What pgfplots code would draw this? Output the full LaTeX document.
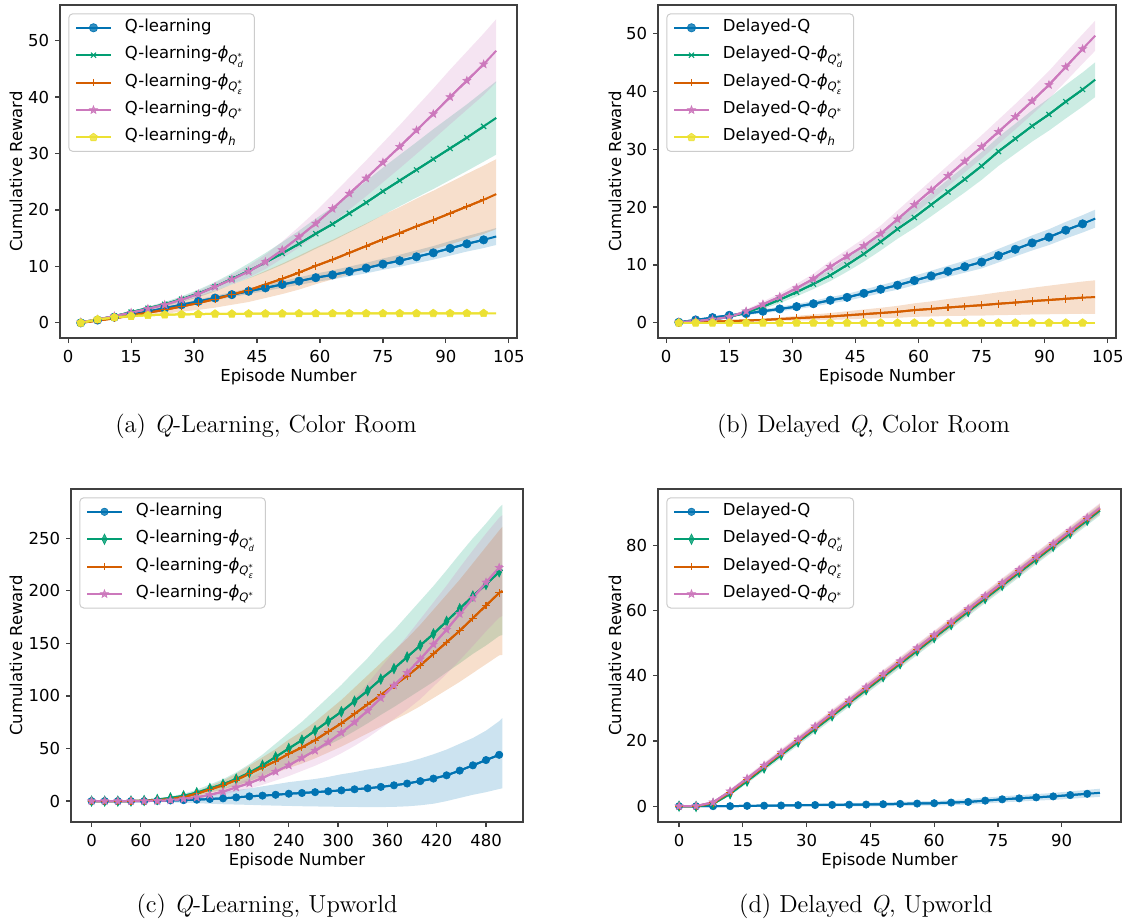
\documentclass[border=0pt]{standalone}
\usepackage{fontspec}
\usepackage{amsmath}
\usepackage{pgfplots}
\usepackage{pgfplotstable}
\pgfplotsset{compat=1.18}
\usepgfplotslibrary{fillbetween}
\newfontfamily\dv{DejaVu Sans}
\newcommand\fs{\dv\fontsize{8.25}{9.9}\selectfont}
\definecolor{c1}{HTML}{0173B2}
\definecolor{c2}{HTML}{029E73}
\definecolor{c3}{HTML}{D55E00}
\definecolor{c4}{HTML}{CC78BC}
\definecolor{c5}{HTML}{ECE133}
\pgfdeclareplotmark{fstar}{%
 \pgfpathmoveto{\pgfpointpolar{90}{\pgfplotmarksize}}%
 \pgfpathlineto{\pgfpointpolar{126}{0.42\pgfplotmarksize}}%
 \pgfpathlineto{\pgfpointpolar{162}{\pgfplotmarksize}}%
 \pgfpathlineto{\pgfpointpolar{198}{0.42\pgfplotmarksize}}%
 \pgfpathlineto{\pgfpointpolar{234}{\pgfplotmarksize}}%
 \pgfpathlineto{\pgfpointpolar{270}{0.42\pgfplotmarksize}}%
 \pgfpathlineto{\pgfpointpolar{306}{\pgfplotmarksize}}%
 \pgfpathlineto{\pgfpointpolar{342}{0.42\pgfplotmarksize}}%
 \pgfpathlineto{\pgfpointpolar{18}{\pgfplotmarksize}}%
 \pgfpathlineto{\pgfpointpolar{54}{0.42\pgfplotmarksize}}%
 \pgfpathclose\pgfusepathqfillstroke}
\newcommand\phiQd{$\text{\itshape ϕ}_{\text{\itshape Q}^{\text{*}}_{\text{\itshape d}}}$}
\newcommand\phiQe{$\text{\itshape ϕ}_{\text{\itshape Q}^{\text{*}}_{\text{\itshape ε}}}$}
\newcommand\phiQ{$\text{\itshape ϕ}_{\text{\itshape Q}^{\text{*}}}$}
\newcommand\phih{$\text{\itshape ϕ}_{\text{\itshape h}}$}
\pgfplotsset{
 myax/.style={
  scale only axis, anchor=south west,
  axis line style={black!75, line width=0.6pt},
  tick pos=left, tick align=outside, major tick length=2.5pt,
  every tick/.style={black!75, line width=0.6pt},
  tick label style={font=\fs},
  yticklabel style={xshift=0.6pt},
  /pgf/number format/assume math mode=true,
  label style={font=\fs},
  xlabel style={at={([yshift=-19.6pt]axis description cs:0.5,0)}, anchor=center},
  legend style={at={(0,1)}, anchor=north west, xshift=4.15pt, yshift=-4.15pt,
    draw=black!20, line width=0.5pt, rounded corners=2pt, fill=white, fill opacity=0.8, text opacity=1,
    font=\fs, inner xsep=3.3pt, inner ysep=1.25pt, row sep=2.2pt, column sep=5.2pt,
    nodes={text height=6.5pt, text depth=3pt, inner xsep=1.5pt, inner ysep=1pt}},
  legend cell align=left,
 },
 s1/.style={c1, line width=1pt, mark=*, mark size=2.1pt, mark options={solid, fill=c1, line width=0.3pt}},
 s1s/.style={s1, mark size=1.85pt},
 s2/.style={c2, line width=1pt, mark=x, mark size=1.8pt, mark options={solid, line width=0.55pt}},
 s2d/.style={c2, line width=1pt, mark=diamond*, mark size=2.6pt, mark options={solid, xscale=0.65, fill=c2, line width=0.3pt}},
 s3/.style={c3, line width=1pt, mark=+, mark size=1.9pt, mark options={solid, line width=0.55pt}},
 s4/.style={c4, line width=1pt, mark=fstar, mark size=2.1pt, mark options={solid, fill=c4, line width=0.3pt}},
 s5/.style={c5, line width=1pt, mark=pentagon*, mark size=2.1pt, mark options={solid, fill=c5, line width=0.3pt}},
}
\newcommand\band[5]{%
 \addplot[draw=none, forget plot, name path=#5l] table[x=x, y expr={\thisrow{#2}-\thisrow{#3}}]{#1};
 \addplot[draw=none, forget plot, name path=#5h] table[x=x, y expr={\thisrow{#2}+\thisrow{#3}}]{#1};
 \addplot[fill=#4, fill opacity=0.2, draw=none, forget plot] fill between[of=#5l and #5h];
}
\newcommand\bandlh[5]{%
 \addplot[draw=none, forget plot, name path=#5l] table[x=x, y=#2]{#1};
 \addplot[draw=none, forget plot, name path=#5h] table[x=x, y=#3]{#1};
 \addplot[fill=#4, fill opacity=0.2, draw=none, forget plot] fill between[of=#5l and #5h];
}
\newcommand\ser[5]{%
 \addplot[#3, mark=none, forget plot] table[x=x,y=#2]{#1};
 \addplot[#3, restrict x to domain=-10:#4] table[x=x,y=#2]{#1};
 \addlegendentry{#5}
}
\pgfplotstableread{
x m1 w1 m2 w2 m3 w3 m4 w4 m5 w5
3 0 0.05 0.1 0.05 0 0.05 0.1 0.05 0 0.05
7 0.5 0.08 0.6 0.1 0.4 0.1 0.6 0.1 0.6 0.06
11 1.0 0.11 1.2 0.15 0.8 0.2 1.2 0.15 0.95 0.06
15 1.5 0.15 1.9 0.2 1.3 0.3 1.8 0.2 1.2 0.06
19 2.0 0.2 2.6 0.3 1.8 0.5 2.5 0.27 1.35 0.06
23 2.6 0.25 3.3 0.4 2.3 0.7 3.2 0.33 1.45 0.06
27 3.2 0.3 4.2 0.5 2.9 0.9 4.1 0.4 1.5 0.06
31 3.8 0.35 5.2 0.67 3.5 1.2 5.1 0.53 1.55 0.06
35 4.4 0.4 6.4 0.83 4.2 1.5 6.4 0.67 1.6 0.06
39 5.0 0.45 7.8 1.0 5.0 1.8 7.7 0.8 1.6 0.06
43 5.6 0.5 9.2 1.33 5.8 2.1 9.1 1.03 1.62 0.06
47 6.2 0.55 10.7 1.67 6.8 2.4 10.8 1.27 1.63 0.06
51 6.8 0.6 12.3 2.0 7.8 2.7 12.9 1.5 1.64 0.06
55 7.4 0.67 14.0 2.33 8.9 3.0 15.2 1.83 1.65 0.06
59 8.0 0.73 15.8 2.67 10.1 3.25 17.6 2.17 1.65 0.06
63 8.5 0.8 17.5 3.0 11.2 3.5 20.2 2.5 1.66 0.06
67 9.1 0.87 19.4 3.4 12.4 3.75 22.9 2.83 1.66 0.06
71 9.7 0.93 21.3 3.8 13.6 4.0 25.6 3.17 1.67 0.06
75 10.4 1.0 23.3 4.2 14.8 4.3 28.4 3.5 1.67 0.06
79 11.0 1.07 25.2 4.55 15.9 4.6 31.2 3.83 1.68 0.06
83 11.7 1.13 27.1 4.9 17.1 4.9 34.1 4.17 1.68 0.06
87 12.4 1.2 29.0 5.3 18.2 5.2 37.0 4.5 1.69 0.06
91 13.2 1.29 30.9 5.6 19.4 5.5 40.0 4.85 1.69 0.06
95 14.0 1.37 32.8 5.9 20.6 5.8 42.9 5.15 1.7 0.06
99 14.7 1.45 34.8 6.25 21.8 6.05 45.8 5.45 1.7 0.06
102 15.3 1.5 36.3 6.5 22.8 6.2 48.2 5.6 1.7 0.06
}\ta
\pgfplotstableread{
x m1 w1 m2 w2 m3 w3 m4 w4 m5 w5
3 0.1 0.05 0.1 0.05 0 0.02 0.1 0.05 0 0.05
7 0.5 0.1 0.3 0.1 0.1 0.05 0.3 0.1 0 0.05
11 0.9 0.15 0.6 0.15 0.2 0.07 0.6 0.15 0 0.05
15 1.3 0.2 1.0 0.2 0.3 0.1 1.0 0.2 0 0.05
19 1.6 0.27 1.8 0.3 0.4 0.17 2.0 0.33 0 0.05
23 2.0 0.33 2.8 0.45 0.5 0.23 3.2 0.47 0 0.05
27 2.4 0.4 4.0 0.6 0.65 0.3 4.5 0.6 0 0.05
31 2.8 0.45 5.3 0.73 0.8 0.4 6.0 0.73 0 0.05
35 3.3 0.5 6.7 0.87 0.95 0.5 7.6 0.87 0 0.05
39 3.9 0.55 8.2 1.0 1.1 0.6 9.7 1.0 0 0.05
43 4.4 0.6 10.0 1.17 1.3 0.7 11.5 1.13 0 0.05
47 5.1 0.65 11.9 1.33 1.5 0.8 13.3 1.27 0 0.05
51 5.8 0.7 14.0 1.5 1.7 0.9 15.4 1.4 0 0.05
55 6.5 0.77 16.2 1.67 1.9 1.03 17.9 1.5 0 0.05
59 7.3 0.83 18.2 1.83 2.2 1.17 20.4 1.6 0 0.05
63 8.1 0.9 20.4 2.0 2.4 1.3 22.9 1.7 0 0.05
67 8.9 0.97 22.6 2.13 2.65 1.47 25.4 1.8 0 0.05
71 9.7 1.03 24.8 2.27 2.85 1.63 27.9 1.9 0 0.05
75 10.5 1.1 27.1 2.4 3.05 1.8 30.4 2.0 0 0.05
79 11.6 1.17 29.6 2.5 3.3 1.97 33.0 2.1 0 0.05
83 12.7 1.23 31.8 2.6 3.5 2.13 35.6 2.2 0 0.05
87 13.8 1.3 34.0 2.7 3.75 2.3 38.3 2.3 0 0.05
91 14.8 1.37 36.0 2.8 3.95 2.47 41.1 2.4 0 0.05
95 16.0 1.44 38.2 2.9 4.15 2.63 44.2 2.5 0 0.05
99 17.1 1.5 40.3 2.95 4.35 2.78 47.3 2.55 0 0.05
102 18.0 1.55 42.0 3.0 4.45 2.9 49.6 2.6 0 0.05
}\tb
\pgfplotstableread{
x m1 l1 h1 m2 w2 m3 w3 m4 w4
0 0 0 0 0 0 0 0 0 0
16 0 -0.1 0.1 0 0.05 0 0.05 0 0.05
32 0 -0.2 0.2 0 0.1 0 0.1 0 0.1
48 0 -0.3 0.4 0 0.2 0 0.15 0 0.15
64 0 -0.5 0.8 0.5 0.4 0.3 0.3 0 0.2
80 0.3 -0.8 1.6 1.5 0.8 0.8 0.6 0.2 0.2
96 0.6 -1.2 2.8 3 1.4 1.8 1.0 0.8 0.3
112 0.9 -1.6 4 5 2.0 4 1.6 2 0.6
128 1.3 -2 5.5 8 2.8 7 2.3 3.5 1.1
144 2 -2.5 7 12 3.8 11 3.3 6 1.8
160 2.6 -3 9 16 4.8 15 4.5 9 2.7
176 3.5 -3.3 10.5 21 6.3 20 6 13 3.9
192 4.5 -3.6 12 27 8.1 26 7.8 17 5.1
208 5.2 -4 14 34 10.2 32 9.6 22 6.6
224 6 -4.3 16 42 12.6 38 11.4 28 8.4
240 7 -4.6 18 50 15 45 13.5 34 10.2
256 7.7 -4.9 19.5 58 17.4 51 15.3 41 12.3
272 8.5 -5.1 21 67 20.1 58 17.4 48 14.4
288 9.3 -5.3 23 76 22.8 66 19.8 56 16.8
304 10.2 -5.5 25.5 85 25.5 74 22.2 65 19.5
320 11.2 -5.6 27.5 95 28.5 83 24.9 75 22.5
336 12.2 -5.7 30 105 31 92 27.6 86 25.8
352 13.5 -5.7 32 116 34 101 30.3 98 29
368 15 -5.5 34.5 126 36.5 110 33 110 32
384 16.7 -5 37 137 39.5 119 35.7 122 35
400 19 -4 40.5 148 42.5 129 38.7 135 38
416 21.4 -2.5 44.5 159 45.5 140 42 149 40
432 24.5 0 49 171 48.5 151 45.3 163 42
448 29 3 54.5 183 52 162 48.6 178 44
464 34 6 60 195 55 174 52.2 193 45.5
480 39 8.5 67 206 58 186 55.8 208 46.5
496 44 11.5 76 218 61 198 59.4 222 47.5
500 45 12.2 79 220 62 200 61 224 48
}\tc
\pgfplotstableread{
x m1 w1 m2 m3 m4 w
0 0 0 0 0 0 0
4 0 0.05 -0.1 0 0.05 0.1
8 0 0.08 0.7 1.0 1.2 0.3
12 0 0.1 3.8 4.3 4.6 0.6
16 0.1 0.15 7.7 8.2 8.5 0.75
20 0.15 0.2 11.7 12.2 12.5 0.9
24 0.2 0.3 15.7 16.2 16.5 1.0
28 0.3 0.35 19.7 20.2 20.5 1.05
32 0.35 0.4 23.7 24.2 24.5 1.1
36 0.4 0.5 27.7 28.2 28.5 1.15
40 0.45 0.53 31.7 32.2 32.5 1.2
44 0.5 0.57 35.7 36.2 36.5 1.25
48 0.6 0.6 39.7 40.2 40.5 1.3
52 0.7 0.63 43.7 44.2 44.5 1.3
56 0.8 0.67 47.7 48.2 48.5 1.35
60 0.9 0.7 51.7 52.2 52.5 1.35
64 1.1 0.77 55.7 56.2 56.5 1.4
68 1.3 0.83 59.7 60.2 60.5 1.4
72 1.7 0.9 63.7 64.2 64.5 1.4
76 2.1 0.93 67.7 68.2 68.5 1.45
80 2.4 0.97 71.7 72.2 72.5 1.45
84 2.7 1.0 75.7 76.2 76.5 1.45
88 3.0 1.07 79.7 80.2 80.5 1.5
92 3.4 1.13 83.7 84.2 84.5 1.5
96 3.8 1.2 87.7 88.2 88.5 1.5
99 4.1 1.25 90.7 91.2 91.5 1.5
}\td
\begin{document}
\begin{tikzpicture}
% (a)
\begin{axis}[myax, at={(30pt,292pt)}, width=228.5pt, height=166.5pt,
  xmin=-1.95, xmax=106.95, ymin=-2.68, ymax=56.3,
  xtick={0,15,...,105}, ytick={0,10,...,50},
  xlabel={Episode Number}, ylabel={Cumulative Reward},
  ylabel style={at={([xshift=-22pt]axis description cs:0,0.5)}, anchor=center}]
\band{\ta}{m1}{w1}{c1}{aA}
\band{\ta}{m2}{w2}{c2}{aB}
\band{\ta}{m3}{w3}{c3}{aC}
\band{\ta}{m4}{w4}{c4}{aD}
\band{\ta}{m5}{w5}{c5}{aE}
\ser{\ta}{m1}{s1}{100}{Q-learning}
\ser{\ta}{m2}{s2}{100}{Q-learning-\phiQd}
\ser{\ta}{m3}{s3}{100}{Q-learning-\phiQe}
\ser{\ta}{m4}{s4}{100}{Q-learning-\phiQ}
\ser{\ta}{m5}{s5}{100}{Q-learning-\phih}
\end{axis}
% (b)
\begin{axis}[myax, at={(329pt,292pt)}, width=229pt, height=166.5pt,
  xmin=-1.95, xmax=106.95, ymin=-2.62, ymax=54.9,
  xtick={0,15,...,105}, ytick={0,10,...,50},
  xlabel={Episode Number}, ylabel={Cumulative Reward},
  ylabel style={at={([xshift=-21.5pt]axis description cs:0,0.5)}, anchor=center}]
\band{\tb}{m1}{w1}{c1}{bA}
\band{\tb}{m2}{w2}{c2}{bB}
\band{\tb}{m3}{w3}{c3}{bC}
\band{\tb}{m4}{w4}{c4}{bD}
\band{\tb}{m5}{w5}{c5}{bE}
\ser{\tb}{m1}{s1}{100}{Delayed-Q}
\ser{\tb}{m2}{s2}{100}{Delayed-Q-\phiQd}
\ser{\tb}{m3}{s3}{100}{Delayed-Q-\phiQe}
\ser{\tb}{m4}{s4}{100}{Delayed-Q-\phiQ}
\ser{\tb}{m5}{s5}{100}{Delayed-Q-\phih}
\end{axis}
% (c)
\begin{axis}[myax, at={(35.5pt,50pt)}, width=226pt, height=166.5pt,
  xmin=-25, xmax=525, ymin=-19.9, ymax=296.8,
  xtick={0,60,...,480}, ytick={0,50,...,250},
  xlabel={Episode Number}, ylabel={Cumulative Reward},
  ylabel style={at={([xshift=-27.5pt]axis description cs:0,0.5)}, anchor=center}]
\bandlh{\tc}{l1}{h1}{c1}{cA}
\band{\tc}{m2}{w2}{c2}{cB}
\band{\tc}{m3}{w3}{c3}{cC}
\band{\tc}{m4}{w4}{c4}{cD}
\ser{\tc}{m1}{s1s}{498}{Q-learning}
\ser{\tc}{m2}{s2d}{498}{Q-learning-\phiQd}
\ser{\tc}{m3}{s3}{498}{Q-learning-\phiQe}
\ser{\tc}{m4}{s4}{498}{Q-learning-\phiQ}
\end{axis}
% (d)
\begin{axis}[myax, at={(329pt,50pt)}, width=231.5pt, height=166.5pt,
  xmin=-4.95, xmax=103.95, ymin=-4.86, ymax=97.3,
  xtick={0,15,...,90}, ytick={0,20,...,80},
  xlabel={Episode Number}, ylabel={Cumulative Reward},
  ylabel style={at={([xshift=-21.5pt]axis description cs:0,0.5)}, anchor=center}]
\band{\td}{m1}{w1}{c1}{dA}
\band{\td}{m2}{w}{c2}{dB}
\band{\td}{m3}{w}{c3}{dC}
\band{\td}{m4}{w}{c4}{dD}
\ser{\td}{m1}{s1s}{97}{Delayed-Q}
\ser{\td}{m2}{s2d}{97}{Delayed-Q-\phiQd}
\ser{\td}{m3}{s3}{97}{Delayed-Q-\phiQe}
\ser{\td}{m4}{s4}{97}{Delayed-Q-\phiQ}
\end{axis}
\node[anchor=base, font=\fontsize{12.3}{14}\selectfont] at (133pt,245pt) {(a) \textit{Q}-Learning, Color Room};
\node[anchor=base, font=\fontsize{12.3}{14}\selectfont] at (431.75pt,245pt) {(b) Delayed \textit{Q}, Color Room};
\node[anchor=base, font=\fontsize{12.3}{14}\selectfont] at (133.5pt,5pt) {(c) \textit{Q}-Learning, Upworld};
\node[anchor=base, font=\fontsize{12.3}{14}\selectfont] at (433pt,5pt) {(d) Delayed \textit{Q}, Upworld};
\pgfresetboundingbox
\path[use as bounding box] (0,0) rectangle (563.5pt,461pt);
\end{tikzpicture}
\end{document}
